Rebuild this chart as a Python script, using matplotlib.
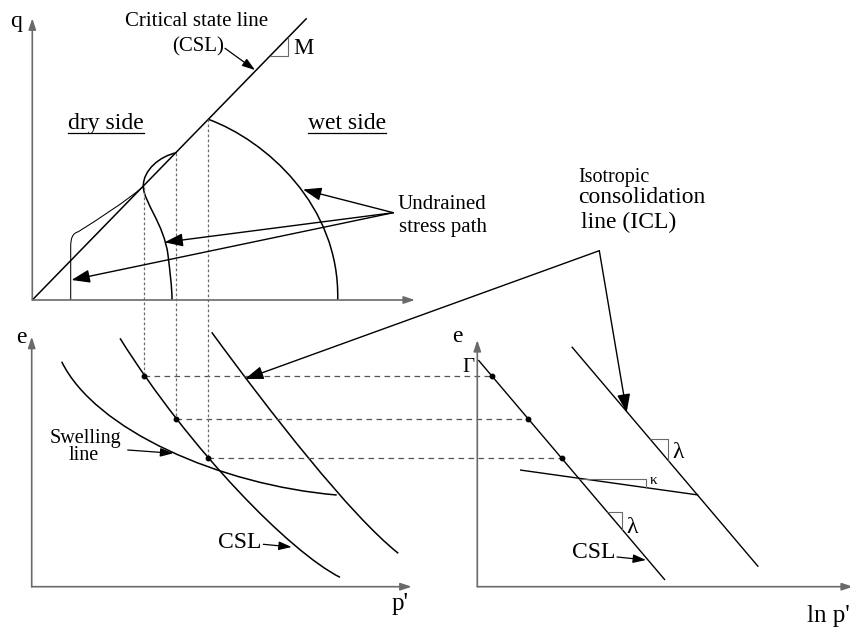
import matplotlib.pyplot as plt
from matplotlib.path import Path
from matplotlib.patches import PathPatch

plt.rcParams['font.family'] = ['Liberation Serif', 'DejaVu Serif']

# everything is laid out on one canvas in pixel units (y grows downwards)
W, H = 850, 628
GREY = '#6a6a6a'

# ---- q - p' plane -------------------------------------------------------
qp_origin = (32.3, 300)
qp_q_tip = 18.3
qp_p_tip = 415
csl_qp = [(32.3, 300), (306.7, 18.3)]
m_triangle = [(270, 55.7), (288.3, 55.7), (288.3, 37.4)]

# undrained paths (cubic bezier chains)
wet_path = [(208.3, 119.3), (265, 140), (340, 205), (337.7, 300)]
mid_path = [(176.7, 152.7), (160, 156), (143, 170), (143.3, 186.5),
            (143.6, 202), (164, 224), (168, 255),
            (170, 272), (172, 287), (172, 300)]
dry_path = [(70.7, 300), (70.7, 280), (70.7, 260), (70.7, 246.7),
            (70.7, 238), (72.5, 233.5), (78.3, 231.7),
            (100, 218), (125, 202), (143.3, 186.5)]

# critical states reached by the three paths
crit_p = [144.0, 176.5, 208.0]
crit_q = [186.5, 152.7, 119.3]
crit_e = [376.0, 419.3, 458.3]
crit_lnp = [491.7, 528.3, 561.7]

# ---- e - p' plane -------------------------------------------------------
ep_origin = (31.7, 586.7)
ep_e_tip = 336.7
ep_p_tip = 411.7
csl_ep = [(120, 338.3), (190, 450), (290, 552), (340, 577.3)]
icl_ep = [(211.7, 332.3), (270, 412), (350, 515), (398.3, 553.3)]
swell_ep = [(61.7, 361.7), (95, 430), (220, 485), (336.7, 495)]

# ---- e - ln p' plane ----------------------------------------------------
el_origin = (477.3, 586.7)
el_e_tip = 340
el_p_tip = 853
csl_el = [(478.3, 360), (665, 580)]
icl_el = [(571.7, 346.7), (758.3, 566.7)]
swell_el = [(520, 470), (698.3, 495)]
kappa_tri = [(579.3, 478.6), (646, 478.6), (646, 487.7)]
lam_tri_icl = [(650, 439), (668.3, 439), (668.3, 460.5)]
lam_tri_csl = [(607, 511.7), (622.3, 511.7), (622.3, 529.6)]

fig = plt.figure(figsize=(W / 100, H / 100), dpi=100)
ax = fig.add_axes([0, 0, 1, 1])
ax.set_xlim(0, W)
ax.set_ylim(H, 0)
ax.axis('off')


def bezier(pts, lw=1.1, color='black'):
    codes = [Path.MOVETO] + [Path.CURVE4] * (len(pts) - 1)
    ax.add_patch(PathPatch(Path(pts, codes), fill=False, lw=lw,
                           edgecolor=color, capstyle='butt'))


def arrow(start, tip, color='black', lw=1.0, hl=0.7, hw=0.25, ms=16):
    ax.annotate('', xy=tip, xytext=start, annotation_clip=False,
                arrowprops=dict(arrowstyle=f'-|>,head_length={hl},head_width={hw}',
                                color=color, lw=lw, shrinkA=0, shrinkB=0,
                                mutation_scale=ms))


def axes_pair(origin, top, right):
    arrow(origin, (origin[0], top), color=GREY, lw=1.2, hl=0.6, hw=0.2, ms=11)
    arrow(origin, (right, origin[1]), color=GREY, lw=1.2, hl=0.6, hw=0.2, ms=11)


def poly(pts, lw=1.0, color='black'):
    xs, ys = zip(*pts)
    ax.plot(xs, ys, color=color, lw=lw, solid_capstyle='butt')


# axes of the three planes
axes_pair(qp_origin, qp_q_tip, qp_p_tip)
axes_pair(ep_origin, ep_e_tip, ep_p_tip)
axes_pair(el_origin, el_e_tip, el_p_tip)

# q - p' plane
poly(csl_qp, lw=1.1)
poly(m_triangle, lw=0.8, color=GREY)
bezier(wet_path)
bezier(mid_path)
bezier(dry_path, lw=0.75)

# e - p' plane
bezier(csl_ep)
bezier(icl_ep)
bezier(swell_ep)

# e - ln p' plane
poly(csl_el)
poly(icl_el)
poly(swell_el)
for tri in (kappa_tri, lam_tri_icl, lam_tri_csl):
    poly(tri, lw=0.8, color=GREY)

# projections of the critical states
for p, q, e, lnp in zip(crit_p, crit_q, crit_e, crit_lnp):
    ax.plot([p, p], [q, e], color=GREY, lw=0.9, ls=(0, (2.2, 1.8)))
    ax.plot([p, lnp], [e, e], color='#555555', lw=0.9, ls=(0, (4.5, 3.5)))
    ax.plot([p, lnp], [e, e], 'o', color='black', ms=3.2)

# labels and pointers
txt = dict(va='baseline', ha='left')
ax.text(10, 27, 'q', fontsize=17, **txt)
ax.text(125, 26.5, 'Critical state line', fontsize=15, **txt)
ax.text(171.7, 51.7, '(CSL)', fontsize=15, **txt)
arrow((225, 48.3), (255, 70), hl=0.6, hw=0.2, ms=13, lw=0.9)
ax.text(293.3, 54, 'M', fontsize=16.5, **txt)

dry = ax.text(68.3, 129, 'dry side', fontsize=17, **txt)
wet = ax.text(308.3, 129, 'wet side', fontsize=17, **txt)

ax.text(397.3, 209.3, 'Undrained', fontsize=15, **txt)
ax.text(399, 231.7, 'stress path', fontsize=15, **txt)
hub = (393.3, 212.7)
arrow(hub, (303, 189.5))
arrow(hub, (164.5, 242.3))
arrow(hub, (71.5, 280))

ax.text(578, 181.7, 'Isotropic', fontsize=14.5, **txt)
ax.text(578, 203.3, 'consolidation', fontsize=17, **txt)
ax.text(581, 228.3, 'line (ICL)', fontsize=17, **txt)
icl_corner = (599.3, 250.7)
arrow(icl_corner, (245, 379))
arrow(icl_corner, (626.7, 412.5))

ax.text(16, 343.3, 'e', fontsize=17, **txt)
ax.text(49.3, 442.7, 'Swelling', fontsize=14.5, **txt)
ax.text(68.3, 460, 'line', fontsize=14.5, **txt)
arrow((127.7, 450), (173.3, 453.3), hl=0.6, hw=0.2, ms=13, lw=0.9)
ax.text(218.3, 548.3, 'CSL', fontsize=17, **txt)
arrow((263.3, 544.3), (291.7, 547), hl=0.6, hw=0.2, ms=13, lw=0.9)
ax.text(392, 610, "p'", fontsize=18, **txt)

ax.text(452.3, 341.7, 'e', fontsize=17, **txt)
ax.text(462, 371.7, 'Γ', fontsize=15, **txt)
ax.text(672.3, 458.3, 'λ', fontsize=17, **txt)
ax.text(649.3, 484, 'κ', fontsize=11, **txt)
ax.text(626.7, 532.7, 'λ', fontsize=17, **txt)
ax.text(571.7, 558.3, 'CSL', fontsize=17, **txt)
arrow((617, 557), (646, 560), hl=0.6, hw=0.2, ms=13, lw=0.9)
ax.text(806.7, 621.7, "ln p'", fontsize=18, **txt)

# underline the two side labels
fig.canvas.draw()
inv = ax.transData.inverted()
for t in (dry, wet):
    bb = t.get_window_extent()
    (x0, _), (x1, _) = inv.transform([(bb.x0, 0), (bb.x1, 0)])
    ax.plot([x0, x1], [133, 133], color='black', lw=0.9)

fig.savefig('out.png', dpi=100)
